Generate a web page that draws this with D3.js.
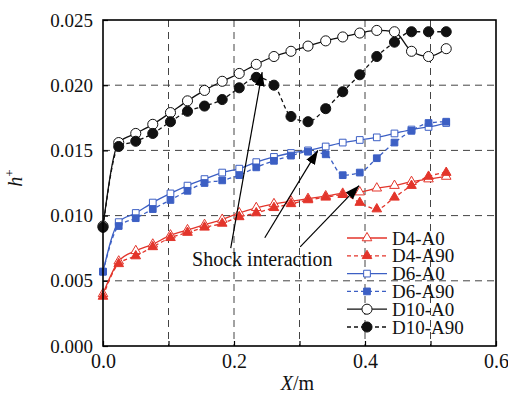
<!DOCTYPE html>
<html>
<head>
<meta charset="utf-8">
<script src="https://cdn.jsdelivr.net/npm/d3@7"></script>
<style>
  body { margin: 0; background: #fff; }
  svg text { font-family: "Liberation Serif", "DejaVu Serif", serif; fill: #111; }
</style>
</head>
<body>
<div id="chart"></div>
<script>
// X positions of the points (m)
var xs = [0, 0.024, 0.050, 0.076, 0.103, 0.129, 0.155, 0.182, 0.208, 0.234, 0.261,
          0.287, 0.313, 0.340, 0.366, 0.392, 0.418, 0.445, 0.471, 0.497, 0.524];

var d4a0  = [0.0040, 0.0065, 0.0073, 0.0078, 0.0085, 0.0089, 0.0093, 0.0097, 0.0102, 0.0106, 0.0109,
             0.0111, 0.0113, 0.0115, 0.0117, 0.0118, 0.0121, 0.0123, 0.0126, 0.0128, 0.0130];
var d4a90 = [0.0038, 0.0063, 0.0069, 0.0076, 0.0083, 0.0087, 0.0091, 0.0094, 0.0099, 0.0102, 0.0106,
             0.0109, 0.0112, 0.0114, 0.0116, 0.0110, 0.0105, 0.0114, 0.0123, 0.0130, 0.0133];
var d6a0  = [0.0057, 0.0095, 0.0102, 0.0110, 0.0117, 0.0123, 0.0128, 0.0133, 0.0136, 0.0141, 0.0145,
             0.0148, 0.0150, 0.0153, 0.0156, 0.0158, 0.0160, 0.0163, 0.0166, 0.0168, 0.0171];
var d6a90 = [0.0057, 0.0092, 0.0098, 0.0105, 0.0112, 0.0119, 0.0125, 0.0127, 0.0131, 0.0137, 0.0142,
             0.0146, 0.0149, 0.0147, 0.0131, 0.0133, 0.0144, 0.0156, 0.0165, 0.0171, 0.0172];
var d10a0  = [0.0092, 0.0156, 0.0163, 0.0170, 0.0179, 0.0188, 0.0196, 0.0203, 0.0209, 0.0216, 0.0222,
              0.0226, 0.0230, 0.0234, 0.0237, 0.0240, 0.0242, 0.0241, 0.0226, 0.0222, 0.0228];
var d10a90 = [0.0091, 0.0153, 0.0157, 0.0163, 0.0172, 0.0180, 0.0184, 0.0189, 0.0198, 0.0206, 0.0200,
              0.0176, 0.0172, 0.0182, 0.0195, 0.0208, 0.0222, 0.0233, 0.0241, 0.0241, 0.0241];

var xTicks = [0, 0.2, 0.4, 0.6];
var xMinor = [0.1, 0.3, 0.5];
var yTicks = [0, 0.005, 0.010, 0.015, 0.020, 0.025];

// "Shock interaction" arrows: [tailX, tailY, tipX, tipY]
var arrows = [
  [0.195, 0.0075, 0.243, 0.0210],
  [0.247, 0.0083, 0.328, 0.0150],
  [0.301, 0.0076, 0.391, 0.0123]
];
var noteX = 0.136, noteY = 0.0061;

var red = "#e3352b", blue = "#3c5fc4", black = "#111";
var serif = "'Liberation Serif', 'DejaVu Serif', serif";

var series = [
  {name: "D4-A0",   values: d4a0,   color: red,   dash: null,  shape: d3.symbolTriangle, size: 40, open: true},
  {name: "D4-A90",  values: d4a90,  color: red,   dash: "4,3", shape: d3.symbolTriangle, size: 40, open: false},
  {name: "D6-A0",   values: d6a0,   color: blue,  dash: null,  shape: d3.symbolSquare,   size: 45, open: true},
  {name: "D6-A90",  values: d6a90,  color: blue,  dash: "4,3", shape: d3.symbolSquare,   size: 45, open: false},
  {name: "D10-A0",  values: d10a0,  color: black, dash: null,  shape: d3.symbolCircle,   size: 80, open: true},
  {name: "D10-A90", values: d10a90, color: black, dash: "4,3", shape: d3.symbolCircle,   size: 80, open: false}
];

var W = 508, H = 393;
var margin = {left: 103, top: 20, right: 12, bottom: 47};
var width = W - margin.left - margin.right,
    height = H - margin.top - margin.bottom;

var svg = d3.select("#chart").append("svg")
    .attr("width", W).attr("height", H)
    .attr("font-family", serif);
var g = svg.append("g").attr("transform", "translate(" + margin.left + "," + margin.top + ")");

var x = d3.scaleLinear().domain([0, 0.6]).range([0, width]);
var y = d3.scaleLinear().domain([0, 0.025]).range([height, 0]);

// grid
g.append("g").selectAll("line")
    .data([0.1, 0.2, 0.3, 0.4, 0.5])
    .enter().append("line")
    .attr("x1", function(d) { return x(d); }).attr("x2", function(d) { return x(d); })
    .attr("y1", 0).attr("y2", height)
    .style("stroke", "#444").style("stroke-width", 1).style("stroke-dasharray", "7,5");
g.append("g").selectAll("line")
    .data([0.005, 0.010, 0.015, 0.020])
    .enter().append("line")
    .attr("y1", function(d) { return y(d); }).attr("y2", function(d) { return y(d); })
    .attr("x1", 0).attr("x2", width)
    .style("stroke", "#444").style("stroke-width", 1).style("stroke-dasharray", "7,5");

// axes
var xAxis = g.append("g").attr("transform", "translate(0," + height + ")")
    .call(d3.axisBottom(x).tickValues(xTicks).tickFormat(d3.format(".1f")).tickSizeInner(-5).tickSizeOuter(0).tickPadding(8));
g.append("g").attr("transform", "translate(0," + height + ")")
    .call(d3.axisBottom(x).tickValues(xMinor).tickFormat("").tickSizeInner(-5).tickSizeOuter(0));
var yAxis = g.append("g")
    .call(d3.axisLeft(y).tickValues(yTicks).tickFormat(d3.format(".3f")).tickSizeInner(-5).tickSizeOuter(0).tickPadding(10));
g.selectAll(".domain").remove();
g.selectAll(".tick line").style("stroke", "#000").style("stroke-width", 1.2);
g.selectAll(".tick").attr("font-family", null);
xAxis.attr("font-family", serif).selectAll("text").style("font-size", "20px").style("font-family", serif).style("fill", "#111");
yAxis.attr("font-family", serif).selectAll("text").style("font-size", "19px").style("font-family", serif).style("fill", "#111");

// series lines
var line = d3.line()
    .x(function(d, i) { return x(xs[i]); })
    .y(function(d) { return y(d); })
    .curve(d3.curveMonotoneX);

series.forEach(function(s) {
  g.append("path")
      .datum(s.values)
      .attr("d", line)
      .style("fill", "none")
      .style("stroke", s.color)
      .style("stroke-width", 1.3)
      .style("stroke-dasharray", s.dash);
});

series.forEach(function(s) {
  g.append("g").selectAll("path")
      .data(s.values)
      .enter().append("path")
      .attr("d", d3.symbol().type(s.shape).size(s.size))
      .attr("transform", function(d, i) { return "translate(" + x(xs[i]) + "," + y(d) + ")"; })
      .style("fill", s.open ? "#fff" : s.color)
      .style("stroke", s.color)
      .style("stroke-width", 1);
});

// frame
g.append("rect").attr("width", width).attr("height", height)
    .style("fill", "none").style("stroke", "#000").style("stroke-width", 1.6);

// annotation arrows
svg.append("defs").append("marker")
    .attr("id", "head")
    .attr("markerUnits", "userSpaceOnUse")
    .attr("markerWidth", 16).attr("markerHeight", 12)
    .attr("refX", 14).attr("refY", 5)
    .attr("orient", "auto")
    .append("path").attr("d", "M0,0L14,5L0,10Z").style("fill", "#000");

g.append("g").selectAll("line")
    .data(arrows)
    .enter().append("line")
    .attr("x1", function(d) { return x(d[0]); })
    .attr("y1", function(d) { return y(d[1]); })
    .attr("x2", function(d) { return x(d[2]); })
    .attr("y2", function(d) { return y(d[3]); })
    .style("stroke", "#000").style("stroke-width", 1.2)
    .attr("marker-end", "url(#head)");

g.append("text")
    .attr("x", x(noteX)).attr("y", y(noteY))
    .style("font-family", serif)
    .style("font-size", "20px")
    .text("Shock interaction");

// legend
var legend = svg.append("g").attr("transform", "translate(347,238)");
var row = legend.selectAll("g").data(series).enter().append("g")
    .attr("transform", function(d, i) { return "translate(0," + (i * 17.8) + ")"; });
row.append("line")
    .attr("x1", 0).attr("x2", 40)
    .style("stroke", function(d) { return d.color; })
    .style("stroke-width", 1.3)
    .style("stroke-dasharray", function(d) { return d.dash; });
row.append("path")
    .attr("transform", "translate(20,0)")
    .attr("d", function(d) { return d3.symbol().type(d.shape).size(d.size)(); })
    .style("fill", function(d) { return d.open ? "#fff" : d.color; })
    .style("stroke", function(d) { return d.color; });
row.append("text")
    .attr("x", 45).attr("dy", "0.35em")
    .style("font-family", serif)
    .style("font-size", "19px")
    .text(function(d) { return d.name; });

// axis titles
var xt = svg.append("text")
    .attr("x", margin.left + width / 2 - 2).attr("y", 390)
    .attr("text-anchor", "middle")
    .style("font-family", serif)
    .style("font-size", "20px");
xt.append("tspan").style("font-style", "italic").text("X");
xt.append("tspan").text("/m");

var yt = svg.append("text")
    .attr("transform", "translate(22,178) rotate(-90)")
    .attr("text-anchor", "middle")
    .style("font-family", serif)
    .style("font-size", "20px");
yt.append("tspan").style("font-style", "italic").text("h");
yt.append("tspan").attr("dy", -8).style("font-size", "13px").text("+");
</script>
</body>
</html>
